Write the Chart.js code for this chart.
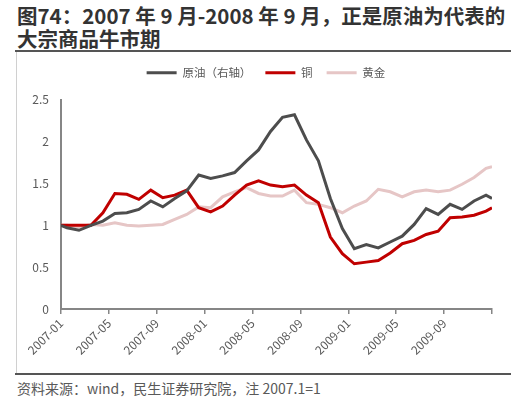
<!DOCTYPE html>
<html>
<head>
<meta charset="utf-8">
<script src="https://cdn.jsdelivr.net/npm/chart.js@4.4.1/dist/chart.umd.min.js"></script>
<style>
  html, body { margin: 0; padding: 0; background: #fff; }
  body { width: 516px; height: 403px; position: relative; overflow: hidden; font-family: "Noto Sans CJK SC", "Noto Sans", sans-serif; }
  #title { position: absolute; left: 17px; top: 4px; width: 495px; font-size: 20.5px; font-weight: bold; line-height: 23px; color: #333; white-space: nowrap; }
  #rule1 { position: absolute; left: 15px; right: 5px; top: 50px; height: 2px; background: #555; }
  #vline { position: absolute; left: 16px; top: 52px; width: 1px; height: 321px; background: #d0d0d0; }
  #rule2 { position: absolute; left: 15px; right: 5px; top: 373px; height: 2px; background: #555; }
  #foot { position: absolute; left: 17px; top: 378px; font-size: 14px; color: #595959; white-space: nowrap; }
  #wrap { position: absolute; left: 0; top: 53px; width: 516px; height: 320px; }
</style>
</head>
<body>
<div id="title">图74：2007 年 9 月-2008 年 9 月，正是原油为代表的<br>大宗商品牛市期</div>
<div id="rule1"></div>
<div id="vline"></div>
<div id="wrap"><canvas id="c"></canvas></div>
<div id="rule2"></div>
<div id="foot">资料来源：wind，民生证券研究院，注 2007.1=1</div>
<script>
// Observation dates (base date, mid-month readings, closing date)
const dates = [
  '2007-01-01',
  '2007-01-16','2007-02-16','2007-03-16','2007-04-16','2007-05-16','2007-06-16',
  '2007-07-16','2007-08-16','2007-09-16','2007-10-16','2007-11-16','2007-12-16',
  '2008-01-16','2008-02-16','2008-03-16','2008-04-16','2008-05-16','2008-06-16',
  '2008-07-16','2008-08-16','2008-09-16','2008-10-16','2008-11-16','2008-12-16',
  '2009-01-16','2009-02-16','2009-03-16','2009-04-16','2009-05-16','2009-06-16',
  '2009-07-16','2009-08-16','2009-09-16','2009-10-16','2009-11-16','2009-12-16',
  '2010-01-01'
];
const oil = [1.00,
  0.97,0.94,1.00,1.05,1.14,1.15,1.19,1.29,1.22,1.32,1.41,1.60,
  1.56,1.59,1.63,1.77,1.90,2.12,2.29,2.32,2.02,1.77,1.32,0.96,
  0.72,0.77,0.73,0.80,0.87,1.01,1.20,1.13,1.25,1.19,1.29,1.36,
  1.32];
const copper = [1.00,
  1.00,1.00,1.00,1.15,1.38,1.37,1.31,1.42,1.33,1.36,1.42,1.21,
  1.16,1.23,1.36,1.48,1.53,1.48,1.46,1.48,1.36,1.27,0.86,0.66,
  0.54,0.56,0.58,0.67,0.78,0.82,0.89,0.93,1.09,1.10,1.12,1.17,
  1.21];
const gold = [1.00,
  1.00,0.98,1.01,1.00,1.03,1.00,0.99,1.00,1.01,1.07,1.13,1.22,
  1.21,1.34,1.40,1.45,1.38,1.35,1.35,1.42,1.27,1.25,1.21,1.15,
  1.23,1.29,1.43,1.40,1.34,1.40,1.42,1.40,1.42,1.49,1.57,1.68,
  1.70];
const seriesNames = ['原油（右轴）', '铜', '黄金'];
const seriesColors = ['#4d4d4d', '#c00000', '#e6c6c6'];
const yTicks = [0, 0.5, 1, 1.5, 2, 2.5];

// months elapsed since 2007-01-01
function monthPos(s) {
  const [y, m, d] = s.split('-').map(Number);
  return (y - 2007) * 12 + (m - 1) + (d - 1) / 30;
}
function monthLabel(v) {
  const y = 2007 + Math.floor(v / 12);
  const m = v % 12 + 1;
  return y + '-' + (m < 10 ? '0' + m : m);
}
const xs = dates.map(monthPos);
const mk = (arr) => arr.map((v, i) => ({ x: xs[i], y: v }));

const FONT = '"Noto Sans CJK SC", "Noto Sans", sans-serif';
const AXIS = '#868686';

// nudge the legend to the right, as in the original layout
const legendShift = {
  id: 'legendShift',
  afterLayout(chart) {
    if (chart.legend) { chart.legend.left += 20; chart.legend.right += 20; }
  }
};

new Chart(document.getElementById('c'), {
  type: 'line',
  plugins: [legendShift],
  data: {
    datasets: [oil, copper, gold].map((arr, i) => ({
      label: seriesNames[i],
      data: mk(arr),
      borderColor: seriesColors[i],
      backgroundColor: seriesColors[i],
      borderWidth: 3,
      pointRadius: 0,
      tension: 0,
      fill: false
    }))
  },
  options: {
    responsive: true,
    maintainAspectRatio: false,
    animation: false,
    layout: { padding: { left: 0, right: 24, top: 0, bottom: 0 } },
    plugins: {
      tooltip: { enabled: false },
      legend: {
        display: true,
        position: 'top',
        labels: {
          boxWidth: 30,
          boxHeight: 3,
          padding: 14,
          color: '#595959',
          font: { family: FONT, size: 11.5 },
          generateLabels(chart) {
            return chart.data.datasets.map((ds, i) => ({
              text: ds.label,
              fillStyle: ds.borderColor,
              strokeStyle: ds.borderColor,
              lineWidth: 0,
              fontColor: '#595959',
              datasetIndex: i,
              hidden: false
            }));
          }
        }
      },
      // empty spacer between legend and plot
      subtitle: {
        display: true,
        text: '',
        position: 'top',
        weight: 500,
        padding: 0,
        font: { size: 11.2, lineHeight: 1 }
      }
    },
    scales: {
      x: {
        type: 'linear',
        min: 0,
        max: 36,
        afterFit(scale) { scale.height = 64; },
        border: { display: true, color: AXIS, width: 2 },
        grid: { display: true, drawOnChartArea: false, drawTicks: true, tickLength: 5, color: AXIS, lineWidth: 1.5 },
        ticks: {
          stepSize: 4,
          autoSkip: false,
          maxRotation: 45,
          minRotation: 45,
          padding: 2,
          color: '#595959',
          font: { family: FONT, size: 12 },
          callback(v) { return v < 36 ? monthLabel(v) : ''; }
        }
      },
      y: {
        min: 0,
        max: 2.5,
        afterFit(scale) { scale.width = 61; },
        afterBuildTicks(scale) { scale.ticks = yTicks.map(v => ({ value: v })); },
        border: { display: true, color: AXIS, width: 2 },
        grid: { display: false, drawTicks: false },
        ticks: {
          padding: 12,
          color: '#595959',
          font: { family: FONT, size: 12 },
          callback(v) { return String(v); }
        }
      }
    }
  }
});
</script>
</body>
</html>
